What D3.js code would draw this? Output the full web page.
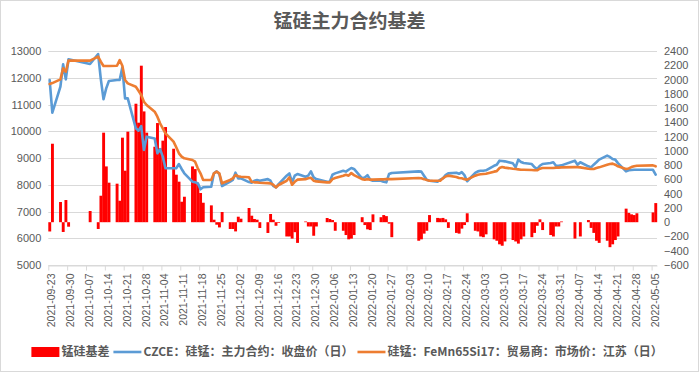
<!DOCTYPE html>
<html lang="zh">
<head>
<meta charset="UTF-8">
<title>锰硅主力合约基差</title>
<script src="https://d3js.org/d3.v7.min.js"></script>
<style>
    body {margin: 0;}
    svg {display: block; font-family: "Noto Sans CJK SC", "Liberation Sans", sans-serif;}
    .axis text {font-family: "Liberation Sans", Arial, sans-serif; font-size: 11px; fill: #595959;}
    .axis .domain {stroke: #d9d9d9;}
    .axis line {stroke: #d9d9d9;}
</style>
</head>
<body>
<script>
    // trading days
    const dates = [
        "2021-09-23","2021-09-24","2021-09-27","2021-09-28","2021-09-29","2021-09-30",
        "2021-10-08","2021-10-11","2021-10-12","2021-10-13","2021-10-14","2021-10-15",
        "2021-10-18","2021-10-19","2021-10-20","2021-10-21","2021-10-22",
        "2021-10-25","2021-10-26","2021-10-27","2021-10-28","2021-10-29",
        "2021-11-01","2021-11-02","2021-11-03","2021-11-04","2021-11-05",
        "2021-11-08","2021-11-09","2021-11-10","2021-11-11","2021-11-12",
        "2021-11-15","2021-11-16","2021-11-17","2021-11-18","2021-11-19",
        "2021-11-22","2021-11-23","2021-11-24","2021-11-25","2021-11-26",
        "2021-11-29","2021-11-30","2021-12-01","2021-12-02","2021-12-03",
        "2021-12-06","2021-12-07","2021-12-08","2021-12-09","2021-12-10",
        "2021-12-13","2021-12-14","2021-12-15","2021-12-16","2021-12-17",
        "2021-12-20","2021-12-21","2021-12-22","2021-12-23","2021-12-24",
        "2021-12-27","2021-12-28","2021-12-29","2021-12-30","2021-12-31",
        "2022-01-04","2022-01-05","2022-01-06","2022-01-07",
        "2022-01-10","2022-01-11","2022-01-12","2022-01-13","2022-01-14",
        "2022-01-17","2022-01-18","2022-01-19","2022-01-20","2022-01-21",
        "2022-01-24","2022-01-25","2022-01-26","2022-01-27","2022-01-28",
        "2022-02-07","2022-02-08","2022-02-09","2022-02-10","2022-02-11",
        "2022-02-14","2022-02-15","2022-02-16","2022-02-17","2022-02-18",
        "2022-02-21","2022-02-22","2022-02-23","2022-02-24","2022-02-25",
        "2022-02-28","2022-03-01","2022-03-02","2022-03-03","2022-03-04",
        "2022-03-07","2022-03-08","2022-03-09","2022-03-10","2022-03-11",
        "2022-03-14","2022-03-15","2022-03-16","2022-03-17","2022-03-18",
        "2022-03-21","2022-03-22","2022-03-23","2022-03-24","2022-03-25",
        "2022-03-28","2022-03-29","2022-03-30","2022-03-31","2022-04-01",
        "2022-04-06","2022-04-07","2022-04-08",
        "2022-04-11","2022-04-12","2022-04-13","2022-04-14","2022-04-15",
        "2022-04-18","2022-04-19","2022-04-20","2022-04-21","2022-04-22",
        "2022-04-25","2022-04-26","2022-04-27","2022-04-28","2022-04-29",
        "2022-05-05","2022-05-06"
    ];

    // 锰硅基差 (right axis)
    const basis = [
        -130, 1100, 283, -137, 311, -63,
        157, -95, 371, 1255, 782, 554,
        540, 301, 1185, 722, 1269,
        1661, 1395, 2194, 1553, 1255,
        1058, 1390, 1035, 1143, 1334,
        1030, 666, 568, 287, 357,
        782, 745, 530, 409, 273,
        236, 35, -35, -73, 143,
        -95, -95, -129, 77, 49,
        199, 91, 45, 35, -81,
        -151, 115, 35, -50, -10,
        -200, -200, -230, -140, -290,
        10, -60, -60, -190, -60,
        59, 45, 30, -120,
        -120, -180, -240, -230, -180,
        70, -40, -100, -110, 110,
        70, 100, 85, -20, -210,
        -260, -240, -160, -120, 100,
        60, 55, 60, 40, -80,
        -150, -160, -90, -40, 125,
        -120, -130, -200, -210, -170,
        -240, -260, -310, -330, -270,
        -250, -270, -300, -240, -200,
        -210, -150, -50, 40, -110,
        -180, -200, -60, -60, 10,
        -230, 0, -200,
        30, -80, -150, -260, -290,
        -260, -350, -310, -250, -200,
        190, 130, 110, 100, 125,
        137, 268
    ];

    // CZCE 硅锰主力合约收盘价 (left axis)
    const czce = [
        11915, 10693, 11665, 12502, 11940, 12690,
        12513, 12887, 11950, 11194, 11604, 11880,
        11915, 11915, 12390, 11230, 11230,
        10110, 10020, 10195, 9300, 9797,
        9730, 9175, 9330, 9050, 8615,
        8615, 8615, 8775, 8590, 8428,
        8115, 8090, 8060, 7830, 7905,
        7925, 8428, 8500, 8400, 7950,
        8115, 8180, 8450, 8240, 8240,
        8100, 8080, 8150, 8175, 8150,
        8210, 8150, 7960, 7900, 8025,
        8340, 8425, 8090, 8340, 8400,
        8300, 8340, 8500, 8275, 8210,
        8110, 8110, 8375, 8425,
        8525, 8490, 8560, 8625, 8590,
        8240, 8275, 8360, 8190, 8150,
        8150, 8110, 8090, 8400, 8440,
        8500, 8490, 8340, 8190, 8150,
        8110, 8190, 8240, 8360, 8425,
        8450, 8410, 8470, 8360, 8130,
        8440, 8500, 8525, 8525, 8540,
        8710, 8750, 8900, 8890, 8875,
        8800, 8650, 8940, 8850, 8810,
        8775, 8660, 8590, 8710, 8775,
        8810, 8840, 8710, 8710, 8725,
        8900, 8750, 8840,
        8690, 8650, 8750, 8840, 8940,
        9090, 9040, 8960, 8940, 8810,
        8500, 8540, 8550, 8560, 8560,
        8560, 8375
    ];

    // FeMn65Si17 贸易商市场价 江苏 (left axis)
    const spot = [
        11766, 11800, 11940, 12352, 12228, 12640,
        12640, 12788, 12600, 12440, 12440, 12440,
        12450, 12660, 12450, 11915, 11790,
        11665, 11515, 11355, 11105, 10980,
        10730, 10544, 10295, 10110, 9923,
        9610, 9400, 9175, 9050, 8988,
        8925, 8863, 8615, 8428, 8180,
        8180, 8428, 8490, 8428, 8054,
        8180, 8240, 8364, 8320, 8300,
        8280, 8110, 8090, 8090, 8075,
        8060, 8050, 8000, 7900, 7990,
        8150, 8275, 8000, 8110, 8190,
        8210, 8240, 8260, 8150, 8125,
        8090, 8090, 8210, 8250,
        8340, 8375, 8340, 8440, 8360,
        8210, 8190, 8210, 8190, 8190,
        8200, 8200, 8210, 8210, 8210,
        8250, 8240, 8210, 8175, 8150,
        8150, 8150, 8240, 8310, 8340,
        8290, 8250, 8240, 8210, 8190,
        8340, 8375, 8390, 8400, 8410,
        8490, 8510, 8625, 8660, 8640,
        8600, 8590, 8575, 8560, 8560,
        8550, 8540, 8540, 8600, 8625,
        8625, 8625, 8640, 8640, 8650,
        8660, 8660, 8650,
        8600, 8590, 8590, 8625, 8650,
        8750, 8775, 8790, 8750, 8690,
        8590, 8610, 8660, 8690, 8710,
        8725, 8690
    ];

    const leftTicks = [5000, 6000, 7000, 8000, 9000, 10000, 11000, 12000, 13000];
    const rightTicks = [-600, -400, -200, 0, 200, 400, 600, 800, 1000, 1200, 1400, 1600, 1800, 2000, 2200, 2400];
    const xTicks = [
        "2021-09-23","2021-09-30","2021-10-07","2021-10-14","2021-10-21","2021-10-28",
        "2021-11-04","2021-11-11","2021-11-18","2021-11-25","2021-12-02","2021-12-09",
        "2021-12-16","2021-12-23","2021-12-30","2022-01-06","2022-01-13","2022-01-20",
        "2022-01-27","2022-02-03","2022-02-10","2022-02-17","2022-02-24","2022-03-03",
        "2022-03-10","2022-03-17","2022-03-24","2022-03-31","2022-04-07","2022-04-14",
        "2022-04-21","2022-04-28","2022-05-05"
    ];

    const title = "锰硅主力合约基差";
    const legendNames = ["锰硅基差", "CZCE：硅锰：主力合约：收盘价（日）", "硅锰：FeMn65Si17：贸易商：市场价：江苏（日）"];

    const width = 699;
    const height = 372;
    const plot = {left: 48.3, right: 657, top: 51, bottom: 265};
    const colors = {bar: "#ff0000", czce: "#5b9bd5", spot: "#ed7d31"};

    const svg = d3.select("body").append("svg")
            .attr("width", width).attr("height", height);

    svg.append("rect")
            .attr("x", 0.5).attr("y", 0.5)
            .attr("width", width - 1).attr("height", height - 1)
            .style("fill", "white").style("stroke", "#d9d9d9");

    const parse = d3.utcParse("%Y-%m-%d");
    const days = dates.map(parse);

    // date axis, each day owns one slot
    const x = d3.scaleUtc()
            .domain([parse("2021-09-23"), parse("2022-05-07")])
            .range([plot.left, plot.right]);
    const slot = x(parse("2021-09-24")) - x(parse("2021-09-23"));
    const cx = d => x(d) + slot / 2;

    const yL = d3.scaleLinear().domain([5000, 13000]).range([plot.bottom, plot.top]);
    const yR = d3.scaleLinear().domain([-600, 2400]).range([plot.bottom, plot.top]);

    // grid
    svg.append("g").selectAll("line")
            .data(leftTicks)
            .enter().append("line")
            .attr("x1", plot.left).attr("x2", plot.right)
            .attr("y1", d => Math.round(yL(d)) + 0.5).attr("y2", d => Math.round(yL(d)) + 0.5)
            .style("stroke", "#d9d9d9").style("stroke-width", 1);

    // axes
    svg.append("g").attr("class", "axis")
            .attr("transform", `translate(${plot.left},0)`)
            .call(d3.axisLeft(yL).tickValues(leftTicks).tickSize(0).tickPadding(7).tickFormat(d3.format("d")))
            .call(g => g.select(".domain").remove());

    svg.append("g").attr("class", "axis")
            .attr("transform", `translate(${plot.right},0)`)
            .call(d3.axisRight(yR).tickValues(rightTicks).tickSize(0).tickPadding(7).tickFormat(d3.format("d")))
            .call(g => g.select(".domain").remove());

    svg.append("g").attr("class", "axis")
            .attr("transform", `translate(0,${Math.round(plot.bottom) + 0.5})`)
            .call(d3.axisBottom(x).tickValues(xTicks.map(parse)).tickSize(5).tickSizeOuter(0)
                    .tickFormat(d3.utcFormat("%Y-%m-%d")))
            .call(g => g.selectAll("text")
                    .attr("transform", "rotate(-90)")
                    .attr("text-anchor", "end")
                    .attr("x", -8).attr("y", 0).attr("dy", "0.62em")
                    .style("font-size", "10.5px"));

    // basis bars
    svg.append("g").selectAll("rect")
            .data(days)
            .enter().append("rect")
            .attr("x", d => x(d))
            .attr("width", slot + 0.2)
            .attr("y", (d, i) => Math.min(yR(basis[i]), yR(0)))
            .attr("height", (d, i) => Math.abs(yR(basis[i]) - yR(0)))
            .style("fill", colors.bar);

    // price lines
    function drawLine(values, color) {
        const line = d3.line()
                .x((d, i) => cx(days[i]))
                .y(d => yL(d));
        svg.append("path")
                .datum(values)
                .attr("d", line)
                .style("fill", "none")
                .style("stroke", color)
                .style("stroke-width", 2.6)
                .style("stroke-linejoin", "round")
                .style("stroke-linecap", "round");
    }
    drawLine(czce, colors.czce);
    drawLine(spot, colors.spot);

    // title
    svg.append("text")
            .attr("x", width / 2).attr("y", 28)
            .attr("text-anchor", "middle")
            .style("font-size", "19px").style("font-weight", "bold")
            .style("fill", "#595959")
            .text(title);

    // legend
    const legend = svg.append("g");
    const legendY = 352;
    let lx = 0;
    legendNames.forEach((name, i) => {
        if (i === 0) {
            legend.append("rect").attr("x", lx).attr("y", legendY - 5)
                    .attr("width", 28).attr("height", 10).style("fill", colors.bar);
        } else {
            legend.append("line").attr("x1", lx).attr("x2", lx + 28)
                    .attr("y1", legendY).attr("y2", legendY)
                    .style("stroke", i === 1 ? colors.czce : colors.spot)
                    .style("stroke-width", 2.6);
        }
        lx += 30;
        const t = legend.append("text")
                .attr("x", lx).attr("y", legendY).attr("dy", "0.35em")
                .style("font-size", "12px").style("font-weight", "bold")
                .style("fill", "#595959")
                .text(name);
        lx += t.node().getComputedTextLength() + 4;
    });
    legend.attr("transform", `translate(${(347 - (lx - 4) / 2).toFixed(1)},0)`);
</script>
</body>
</html>
